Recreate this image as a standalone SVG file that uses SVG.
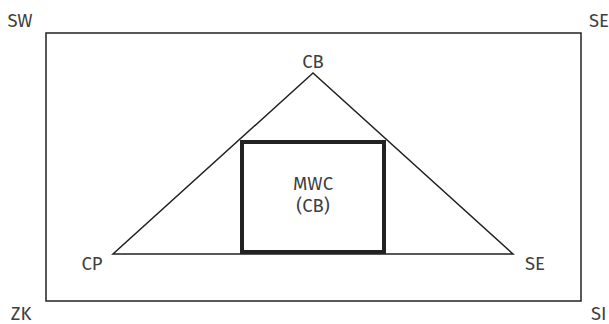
<svg xmlns="http://www.w3.org/2000/svg" width="609" height="324" viewBox="0 0 609 324">
<style>
text{font-family:"Fira Sans","Open Sans","Noto Sans",sans-serif;font-size:18.5px;fill:#404040}
.thin{fill:none;stroke:#222;stroke-width:1.5}
.thick{fill:#fff;stroke:#222;stroke-width:4}
</style>
<rect x="0" y="0" width="609" height="324" fill="#fff"/>
<g id="frame"><rect class="thin" x="46" y="33" width="535" height="268"/></g>
<g id="connectors"><polygon class="thin" points="313,73 113,254 513,254"/></g>
<g id="MWC"><rect class="thick" x="242" y="142" width="142" height="110"/>
<text x="313" y="190" text-anchor="middle">MWC</text><text x="313" y="212" text-anchor="middle">(CB)</text></g>
<g id="CB"><text x="313" y="68" text-anchor="middle">CB</text></g>
<g id="CP"><text x="92" y="270" text-anchor="middle">CP</text></g>
<g id="SE"><text x="535" y="270" text-anchor="middle">SE</text></g>
<g id="SW"><text x="20" y="27" text-anchor="middle">SW</text></g>
<g id="SE2"><text x="589" y="27">SE</text></g>
<g id="ZK"><text x="21" y="320" text-anchor="middle">ZK</text></g>
<g id="SI"><text x="591" y="320">SI</text></g>
</svg>
